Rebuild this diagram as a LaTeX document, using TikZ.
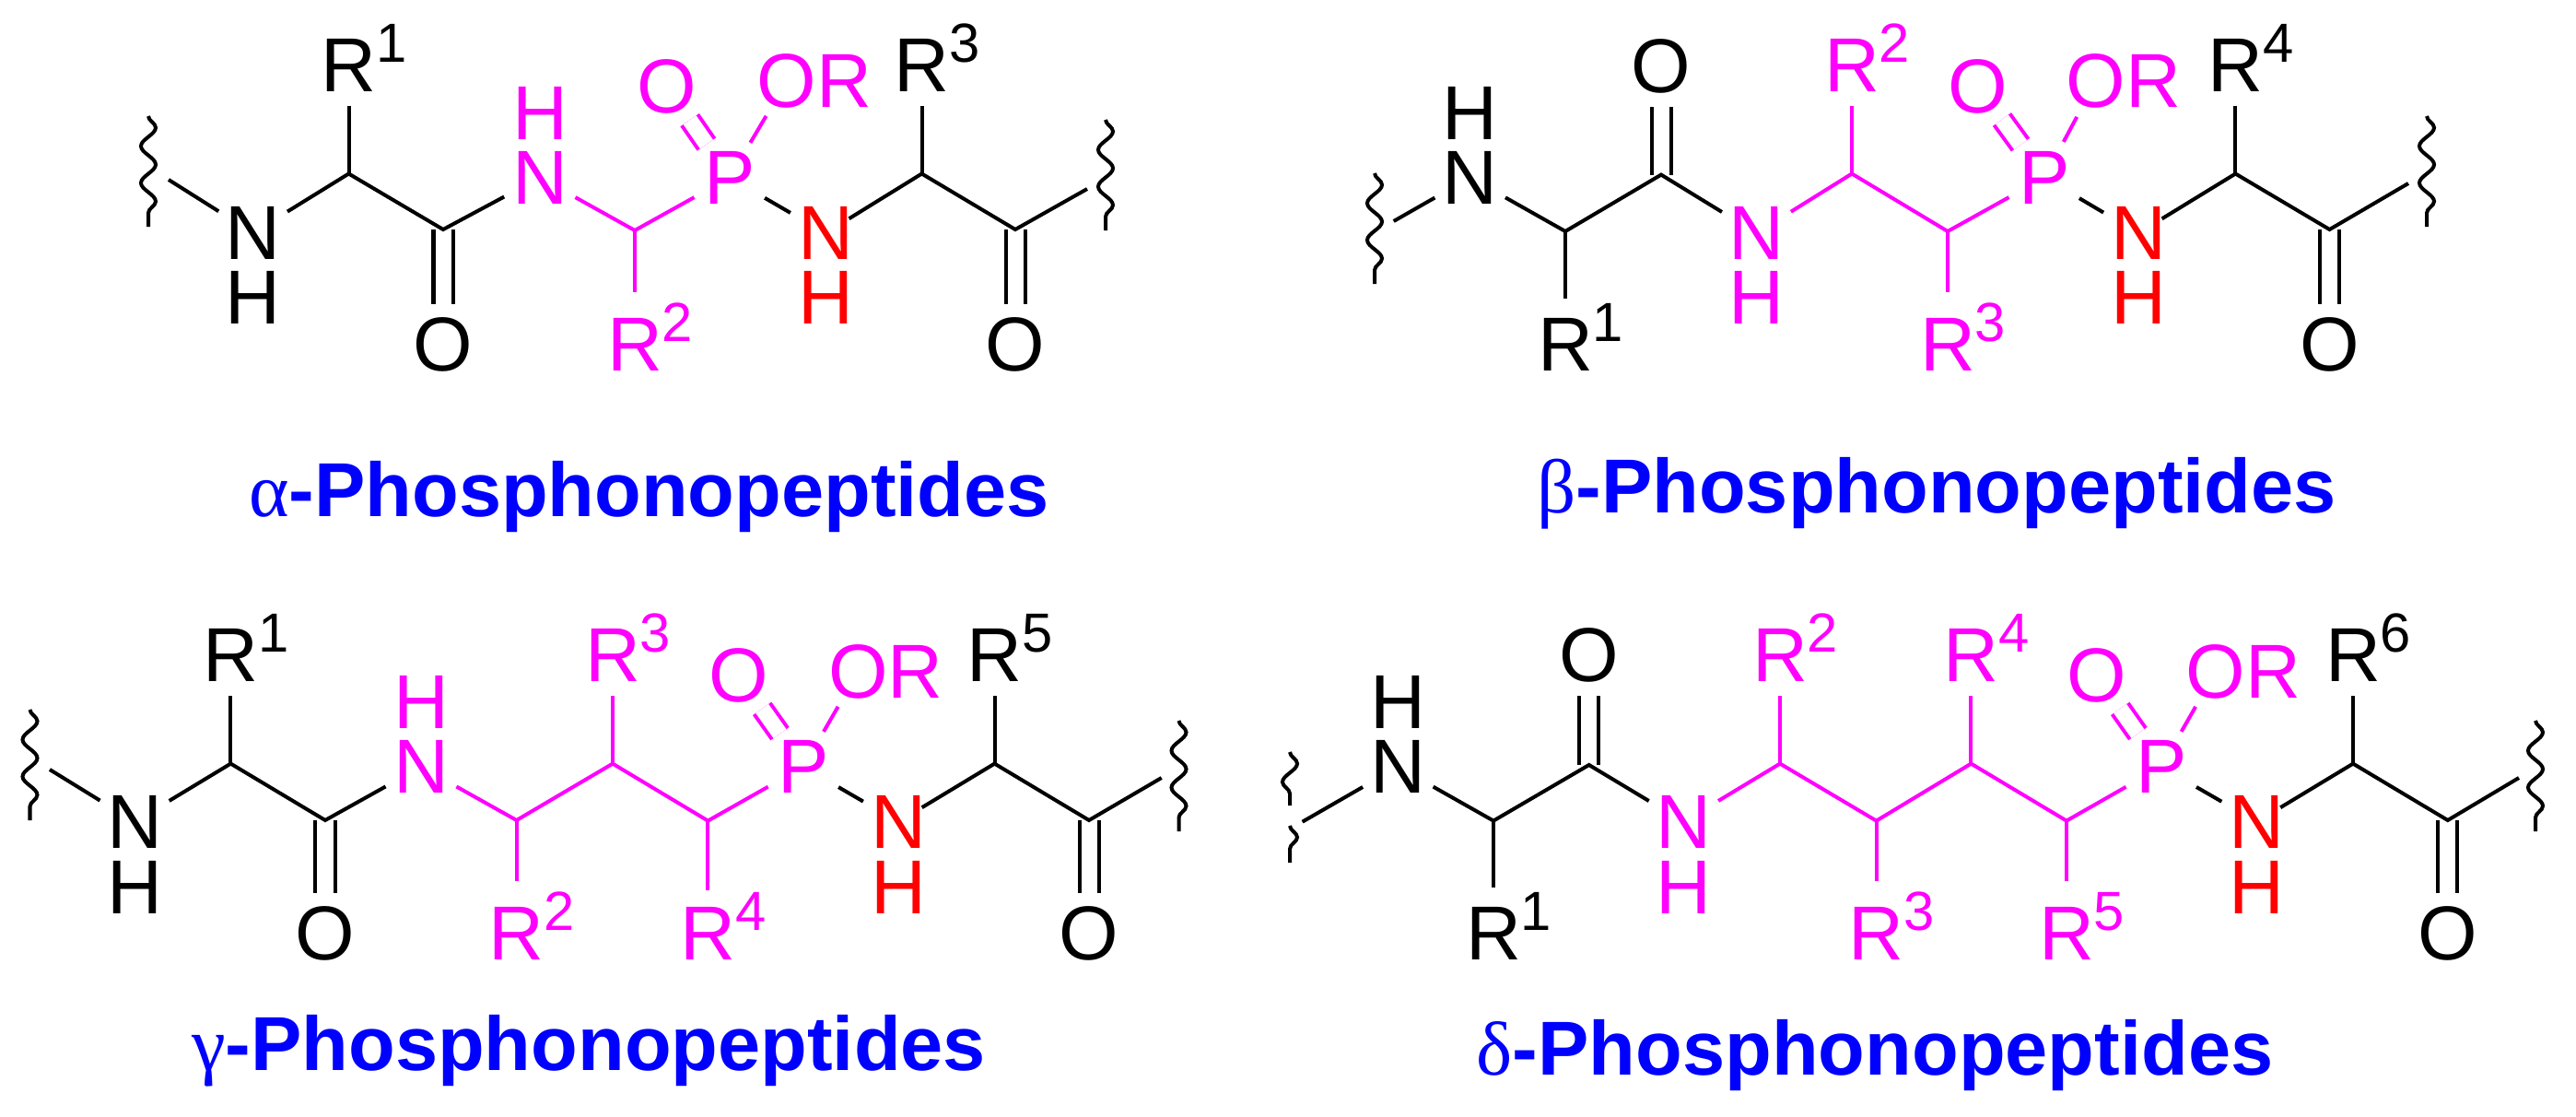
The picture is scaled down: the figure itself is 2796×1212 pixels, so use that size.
\documentclass[tikz,border=0pt]{standalone}
\usepackage{fontspec}
\usepackage{xcolor}
\usetikzlibrary{decorations.pathmorphing}
\setmainfont{Liberation Sans}
\newfontfamily\serifgreek{Liberation Serif}
\definecolor{mag}{RGB}{255,0,255}
\definecolor{nred}{RGB}{255,0,0}
\definecolor{tblue}{RGB}{0,0,255}
\newcommand{\rsub}[1]{R\rlap{\smash{\raisebox{9pt}{\fontsize{17}{17}\selectfont #1}}}}
\newcommand{\grk}[1]{{\serifgreek\mdseries #1}}

\begin{document}
\begin{tikzpicture}[x=0.01cm, y=-0.01cm,
    atom/.style={circle, inner sep=0pt, outer sep=0pt, minimum size=0.88cm, font=\fontsize{23.6}{28}\selectfont},
    bond/.style={line width=0.04cm, line join=miter},
    dbl/.style={line width=0.04cm, double, double distance=0.17cm},
    wave/.style={line width=0.04cm, decorate, decoration={snake, segment length=0.4cm, amplitude=0.08cm}},
    rshort/.style={shorten >=0.13cm},
    pshort/.style={shorten <=-0.14cm},
    title/.style={anchor=base, inner sep=0pt, text=tblue, font=\fontsize{23.6}{28}\bfseries\selectfont}]
    \useasboundingbox (0,0) rectangle (2796,1212);

    % Alpha
    \coordinate (aC1) at (378.5,188.5);
    \coordinate (aC2) at (481,249);
    \coordinate (aC3) at (689,250);
    \coordinate (aC4) at (1000.5,188.5);
    \coordinate (aC5) at (1102,249);
    \coordinate (aWl) at (183,195);
    \coordinate (aWr) at (1180,205);
    \coordinate (aWa) at (161,126);
    \coordinate (aWb) at (161,246);
    \coordinate (aWc) at (1200,130);
    \coordinate (aWd) at (1200,250);
    \node[atom] (aN1) at (274.5,252.7) {N};
    \node[atom] (aH1) at (274.5,323) {H};
    \node[atom] (aR1) at (378.5,71) {\rsub{1}};
    \node[atom] (aO1) at (481,373.6) {O};
    \node[atom, mag] (aN2) at (586,192.7) {N};
    \node[atom, mag] (aH2) at (586,122.6) {H};
    \node[atom, mag] (aR2) at (689,373.6) {\rsub{2}};
    \node[atom, mag] (aP) at (792,192.7) {P};
    \node[atom, mag] (aO2) at (723.6,94) {O};
    \node[atom, mag] (aO3) at (854,88) {O\rlap{R}};
    \node[atom, nred] (aN3) at (896,253) {N};
    \node[atom, nred] (aH3) at (896,323) {H};
    \node[atom] (aR3) at (1000.5,71) {\rsub{3}};
    \node[atom] (aO4) at (1102,373.6) {O};
    \draw[dbl] (aC2) -- (aO1);
    \draw[dbl] (aC5) -- (aO4);
    \draw[dbl, mag] (aP) -- (aO2);
    \draw[wave] (aWa) -- (aWb);
    \draw[wave] (aWc) -- (aWd);
    \draw[bond] (aWl) -- (aN1) -- (aC1) -- (aC2) -- (aN2);
    \draw[bond] (aC1) -- (aR1);
    \draw[bond, mag] (aN2) -- (aC3) -- (aP) -- (aO3);
    \draw[bond, mag, rshort] (aC3) -- (aR2);
    \draw[bond, pshort] (aP) -- (aN3) -- (aC4) -- (aC5) -- (aWr);
    \draw[bond] (aC4) -- (aR3);
    \node[title] (aT) at (704.5,560) {\grk{α}-Phosphonopeptides};

    % Beta
    \coordinate (bC1) at (1699,251);
    \coordinate (bC2) at (1803,189.6);
    \coordinate (bC3) at (2010,188.5);
    \coordinate (bC4) at (2114,251);
    \coordinate (bC5) at (2426.4,188.5);
    \coordinate (bC6) at (2528.5,249);
    \coordinate (bWl) at (1512.7,240);
    \coordinate (bWr) at (2614,199);
    \coordinate (bWa) at (1492,188);
    \coordinate (bWb) at (1492,308);
    \coordinate (bWc) at (2634,126);
    \coordinate (bWd) at (2634,246);
    \node[atom] (bN1) at (1595.6,192.7) {N};
    \node[atom] (bH1) at (1595.6,122.6) {H};
    \node[atom] (bR1) at (1699,373.6) {\rsub{1}};
    \node[atom] (bO1) at (1803,71.6) {O};
    \node[atom, mag] (bN2) at (1906.5,253) {N};
    \node[atom, mag] (bH2) at (1906.5,323) {H};
    \node[atom, mag] (bR2) at (2010,71) {\rsub{2}};
    \node[atom, mag] (bR3) at (2114,373.6) {\rsub{3}};
    \node[atom, mag] (bP) at (2219,192.7) {P};
    \node[atom, mag] (bO2) at (2147,94) {O};
    \node[atom, mag] (bO3) at (2275,88) {O\rlap{R}};
    \node[atom, nred] (bN3) at (2321,253) {N};
    \node[atom, nred] (bH3) at (2321,323) {H};
    \node[atom] (bR4) at (2426.4,71) {\rsub{4}};
    \node[atom] (bO4) at (2528.5,373.6) {O};
    \draw[dbl] (bC2) -- (bO1);
    \draw[dbl] (bC6) -- (bO4);
    \draw[dbl, mag] (bP) -- (bO2);
    \draw[wave] (bWa) -- (bWb);
    \draw[wave] (bWc) -- (bWd);
    \draw[bond] (bWl) -- (bN1) -- (bC1) -- (bC2) -- (bN2);
    \draw[bond, shorten >=0.06cm] (bC1) -- (bR1);
    \draw[bond, mag] (bN2) -- (bC3) -- (bC4) -- (bP) -- (bO3);
    \draw[bond, mag] (bC3) -- (bR2);
    \draw[bond, mag, rshort] (bC4) -- (bR3);
    \draw[bond, pshort] (bP) -- (bN3) -- (bC5) -- (bC6) -- (bWr);
    \draw[bond] (bC5) -- (bR4);
    \node[title] (bT) at (2102,556) {\grk{β}-Phosphonopeptides};

    % Gamma
    \coordinate (gC1) at (250.4,828.6);
    \coordinate (gC2) at (353,890);
    \coordinate (gC3) at (560.7,890);
    \coordinate (gC4) at (665,828.6);
    \coordinate (gC5) at (768.4,890.6);
    \coordinate (gC6) at (1079.5,828.6);
    \coordinate (gC7) at (1182,890);
    \coordinate (gWl) at (54,835);
    \coordinate (gWr) at (1260.7,844);
    \coordinate (gWa) at (32.5,770);
    \coordinate (gWb) at (32.5,890);
    \coordinate (gWc) at (1279.5,782);
    \coordinate (gWd) at (1279.5,902);
    \node[atom] (gN1) at (146,891.7) {N};
    \node[atom] (gH1) at (146,962.5) {H};
    \node[atom] (gR1) at (250.4,711) {\rsub{1}};
    \node[atom] (gO1) at (353,1013) {O};
    \node[atom, mag] (gN2) at (457,832) {N};
    \node[atom, mag] (gH2) at (457,762) {H};
    \node[atom, mag] (gR2) at (560.7,1013) {\rsub{2}};
    \node[atom, mag] (gR3) at (665,711) {\rsub{3}};
    \node[atom, mag] (gR4) at (768.4,1013) {\rsub{4}};
    \node[atom, mag] (gP) at (872,832) {P};
    \node[atom, mag] (gO2) at (801.7,733) {O};
    \node[atom, mag] (gO3) at (931.6,728.6) {O\rlap{R}};
    \node[atom, nred] (gN3) at (975,891.7) {N};
    \node[atom, nred] (gH3) at (975,962.5) {H};
    \node[atom] (gR5) at (1079.5,711) {\rsub{5}};
    \node[atom] (gO4) at (1182,1013) {O};
    \draw[dbl] (gC2) -- (gO1);
    \draw[dbl] (gC7) -- (gO4);
    \draw[dbl, mag] (gP) -- (gO2);
    \draw[wave] (gWa) -- (gWb);
    \draw[wave] (gWc) -- (gWd);
    \draw[bond] (gWl) -- (gN1) -- (gC1) -- (gC2) -- (gN2);
    \draw[bond] (gC1) -- (gR1);
    \draw[bond, mag] (gN2) -- (gC3) -- (gC4) -- (gC5) -- (gP) -- (gO3);
    \draw[bond, mag, rshort] (gC3) -- (gR2);
    \draw[bond, mag] (gC4) -- (gR3);
    \draw[bond, mag, shorten >=0.03cm] (gC5) -- (gR4);
    \draw[bond, pshort] (gP) -- (gN3) -- (gC6) -- (gC7) -- (gWr);
    \draw[bond] (gC6) -- (gR5);
    \node[title] (gT) at (639,1161.7) {\grk{γ}-Phosphonopeptides};

    % Delta
    \coordinate (dC1) at (1621,890.6);
    \coordinate (dC2) at (1724.7,830);
    \coordinate (dC3) at (1932,828.6);
    \coordinate (dC4) at (2036.6,890.6);
    \coordinate (dC5) at (2139.4,828.6);
    \coordinate (dC6) at (2243,890.6);
    \coordinate (dC7) at (2554,828.6);
    \coordinate (dC8) at (2656.8,890);
    \coordinate (dWl) at (1413.6,891.7);
    \coordinate (dWr) at (2734,844);
    \coordinate (dWa) at (1400,816);
    \coordinate (dWb) at (1400,874);
    \coordinate (dWe) at (1400,896);
    \coordinate (dWf) at (1400,936);
    \coordinate (dWc) at (2752,782);
    \coordinate (dWd) at (2752,902);
    \node[atom] (dN1) at (1517.3,832) {N};
    \node[atom] (dH1) at (1517.3,762) {H};
    \node[atom] (dR1) at (1621,1013) {\rsub{1}};
    \node[atom] (dO1) at (1724.7,711) {O};
    \node[atom, mag] (dN2) at (1827.4,891.7) {N};
    \node[atom, mag] (dH2) at (1827.4,962.5) {H};
    \node[atom, mag] (dR2) at (1932,711) {\rsub{2}};
    \node[atom, mag] (dR3) at (2036.6,1013) {\rsub{3}};
    \node[atom, mag] (dR4) at (2139.4,711) {\rsub{4}};
    \node[atom, mag] (dR5) at (2243,1013) {\rsub{5}};
    \node[atom, mag] (dP) at (2345.8,832) {P};
    \node[atom, mag] (dO2) at (2275.8,733) {O};
    \node[atom, mag] (dO3) at (2405,728.6) {O\rlap{R}};
    \node[atom, nred] (dN3) at (2449.5,891.7) {N};
    \node[atom, nred] (dH3) at (2449.5,962.5) {H};
    \node[atom] (dR6) at (2554,711) {\rsub{6}};
    \node[atom] (dO4) at (2656.8,1013) {O};
    \draw[dbl] (dC2) -- (dO1);
    \draw[dbl] (dC8) -- (dO4);
    \draw[dbl, mag] (dP) -- (dO2);
    \draw[wave] (dWa) -- (dWb);
    \draw[wave] (dWe) -- (dWf);
    \draw[wave] (dWc) -- (dWd);
    \draw[bond] (dWl) -- (dN1) -- (dC1) -- (dC2) -- (dN2);
    \draw[bond, shorten >=0.06cm] (dC1) -- (dR1);
    \draw[bond, mag] (dN2) -- (dC3) -- (dC4) -- (dC5) -- (dC6) -- (dP) -- (dO3);
    \draw[bond, mag] (dC3) -- (dR2);
    \draw[bond, mag, rshort] (dC4) -- (dR3);
    \draw[bond, mag] (dC5) -- (dR4);
    \draw[bond, mag, rshort] (dC6) -- (dR5);
    \draw[bond, pshort] (dP) -- (dN3) -- (dC7) -- (dC8) -- (dWr);
    \draw[bond] (dC7) -- (dR6);
    \node[title] (dT) at (2035,1166) {\grk{δ}-Phosphonopeptides};
\end{tikzpicture}
\end{document}
